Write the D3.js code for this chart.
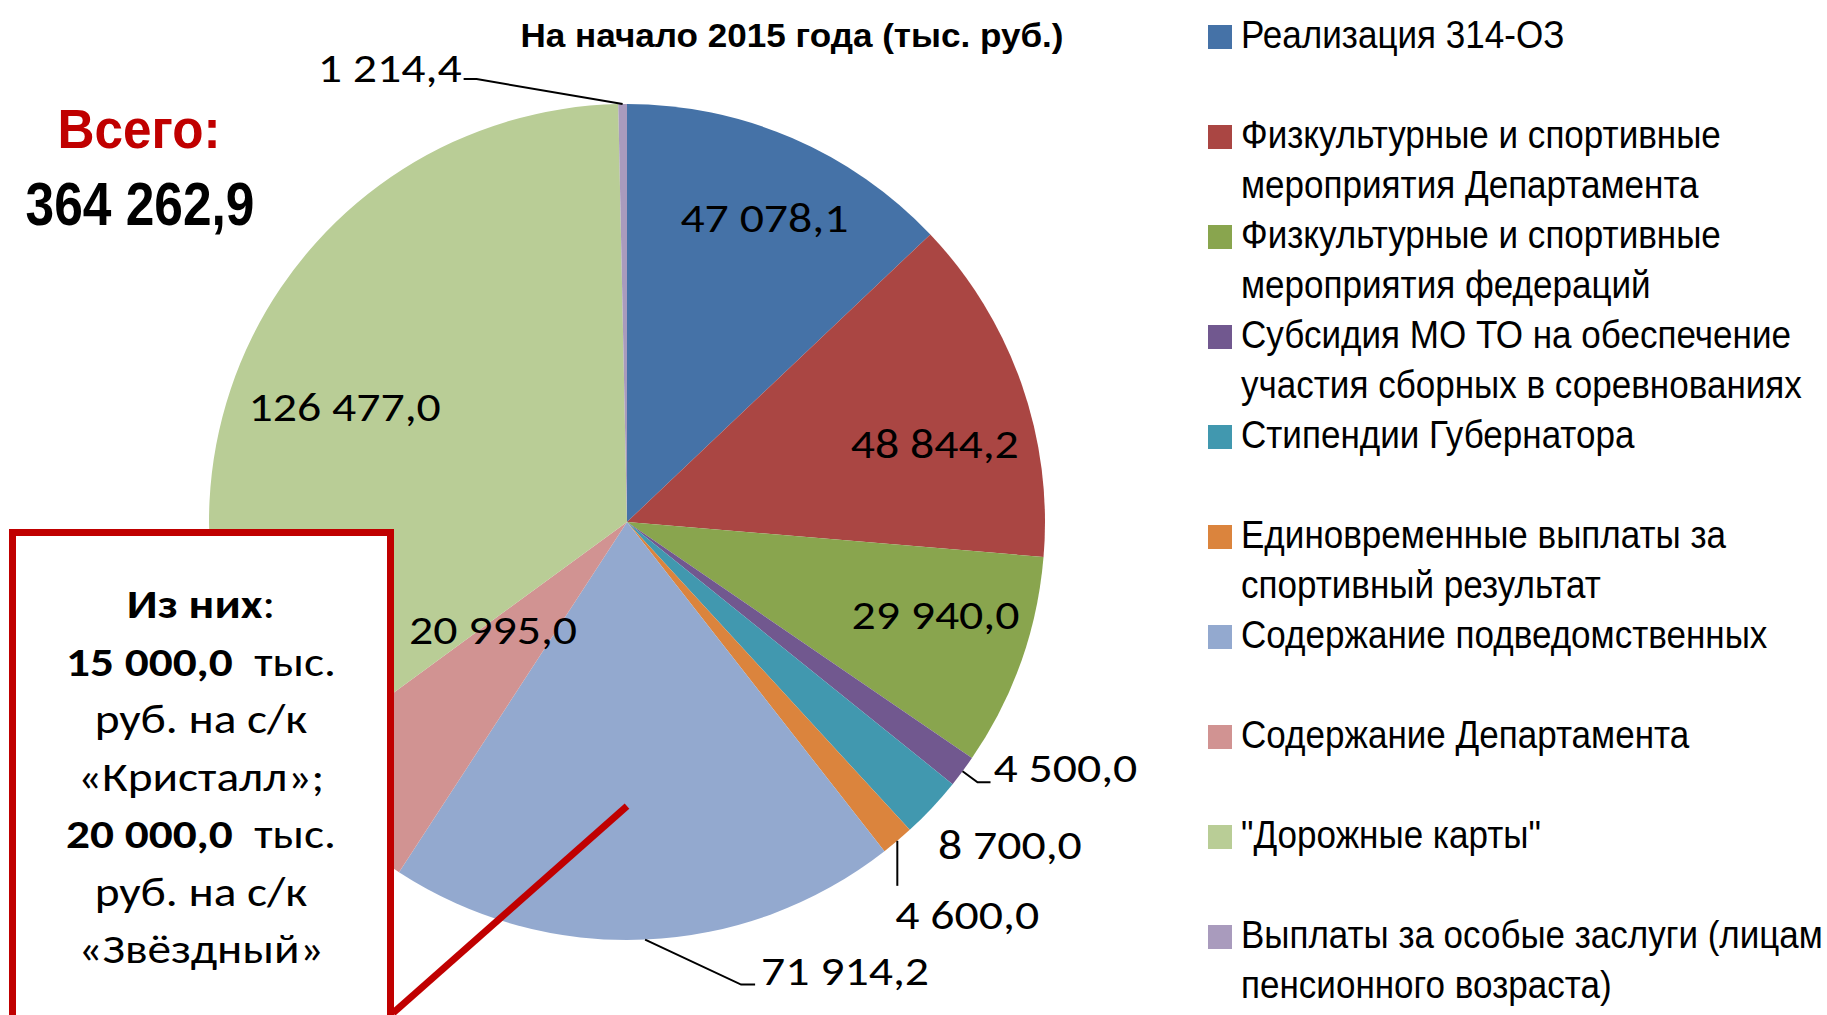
<!DOCTYPE html>
<html>
<head>
<meta charset="utf-8">
<script src="https://cdn.jsdelivr.net/npm/d3@7"></script>
<style>
html, body { margin: 0; padding: 0; background: #fff; overflow: hidden; }
svg { display: block; }
text { white-space: pre; }
</style>
</head>
<body>
<svg width="1827" height="1015"></svg>
<script>
// data, in slice order (clockwise from 12 o'clock)
var categories = [
  "Реализация 314-ОЗ",
  "Физкультурные и спортивные\nмероприятия Департамента",
  "Физкультурные и спортивные\nмероприятия федераций",
  "Субсидия МО ТО на обеспечение\nучастия сборных в соревнованиях",
  "Стипендии Губернатора",
  "Единовременные выплаты за\nспортивный результат",
  "Содержание подведомственных",
  "Содержание Департамента",
  "\"Дорожные карты\"",
  "Выплаты за особые заслуги (лицам\nпенсионного возраста)"
];
var values = [47078.1, 48844.2, 29940.0, 4500.0, 8700.0, 4600.0, 71914.2, 20995.0, 126477.0, 1214.4];
var colors = ["#4572A7", "#AA4643", "#89A54E", "#71588F", "#4198AF", "#DB843D", "#93A9CF", "#D19392", "#B9CD96", "#A99BBD"];

var title = "На начало 2015 года (тыс. руб.)";
var totalCaption = "Всего:";
var noteLines = [
  [["Из них", true], [":", false]],
  [["15 000,0", true], ["  тыс.", false]],
  [["руб. на с/к", false]],
  [["«Кристалл»;", false]],
  [["20 000,0", true], ["  тыс.", false]],
  [["руб. на с/к", false]],
  [["«Звёздный»", false]]
];

var svg = d3.select("svg");
var narrow = "'Liberation Sans Narrow', 'Arial Narrow', 'Liberation Sans', Arial, sans-serif";
var calibri = "Carlito, Calibri, Lato, 'Open Sans', sans-serif";

var cx = 627, cy = 522, R = 418;

var fmt = d3.formatLocale({decimal: ",", thousands: " ", grouping: [3], currency: ["", ""]}).format(",.1f");

// stretch/shrink text horizontally by factor k
function squeeze(sel, k) {
  sel.each(function() {
    var w = this.getComputedTextLength();
    d3.select(this).attr("textLength", w * k).attr("lengthAdjust", "spacingAndGlyphs");
  });
}
function fitTo(sel, width) {
  squeeze(sel, width / sel.node().getComputedTextLength());
}
function factor(str, font, size, weight, width) {
  var t = svg.append("text").attr("font-family", font).attr("font-size", size)
    .attr("font-weight", weight).text(str);
  var k = width / t.node().getComputedTextLength();
  t.remove();
  return k;
}

// pie
var pie = d3.pie().sort(null).value(function(d) { return d; });
var arcs = pie(values);
var arc = d3.arc().innerRadius(0).outerRadius(R);

var g = svg.append("g").attr("transform", "translate(" + cx + "," + cy + ")");
g.selectAll("path.slice")
  .data(arcs).enter()
  .append("path")
  .attr("class", "slice")
  .attr("d", arc)
  .attr("fill", function(d, i) { return colors[i]; });

function polar(a, r) { return [r * Math.sin(a), -r * Math.cos(a)]; }
function mid(d) { return (d.startAngle + d.endAngle) / 2; }

// label placement (Excel "best fit" look)
var labelLayout = [
  {inside: true, r: 0.80, turn: 1},
  {inside: true, r: 0.76, turn: 5},
  {inside: true, r: 0.77, turn: -3},
  {leader: [[15, 11], [28, 11]], text: [31, 11], anchor: "start"},
  {text: [6, 51], anchor: "start"},
  {leader: [[0, 45]], text: [-2, 88], anchor: "start"},
  {leader: [[96, 45], [110, 45]], text: [116, 45], anchor: "start"},
  {inside: true, r: 0.41, turn: 8},
  {inside: true, r: 0.73, turn: -4},
  {leader: [[-146, -25], [-159, -25]], text: [-161, -22], anchor: "end"}
];

var kLab = factor("47 078,1", calibri, 42, "normal", 168);
var labels = g.append("g").attr("font-family", calibri).attr("font-size", 42).attr("fill", "#000");

arcs.forEach(function(d, i) {
  var L = labelLayout[i];
  var p;
  if (L.inside) {
    p = polar(mid(d) + L.turn * Math.PI / 180, L.r * R);
    labels.append("text").attr("x", p[0]).attr("y", p[1]).attr("dy", "0.35em")
      .attr("text-anchor", "middle").text(fmt(d.data));
  } else {
    var e = polar(mid(d), R);
    if (L.leader) {
      var pts = [e].concat(L.leader.map(function(o) { return [e[0] + o[0], e[1] + o[1]]; }));
      labels.append("path").attr("d", d3.line()(pts))
        .attr("fill", "none").attr("stroke", "#000").attr("stroke-width", 2);
    }
    labels.append("text").attr("x", e[0] + L.text[0]).attr("y", e[1] + L.text[1])
      .attr("text-anchor", L.anchor).text(fmt(d.data));
  }
});
squeeze(labels.selectAll("text"), kLab);

// title
var t = svg.append("text").attr("x", 792).attr("y", 47).attr("text-anchor", "middle")
  .attr("font-family", narrow).attr("font-weight", "bold").attr("font-size", 33).text(title);
fitTo(t, 543);

// total
var t1 = svg.append("text").attr("x", 139).attr("y", 148).attr("text-anchor", "middle")
  .attr("font-family", narrow).attr("font-weight", "bold").attr("font-size", 56)
  .attr("fill", "#C00000").text(totalCaption);
fitTo(t1, 163);
var t2 = svg.append("text").attr("x", 140).attr("y", 225).attr("text-anchor", "middle")
  .attr("font-family", narrow).attr("font-weight", "bold").attr("font-size", 62)
  .text(fmt(d3.sum(values)));
fitTo(t2, 229);

// legend
var legX = 1208, textX = 1241, rightEdge = 1823;
var kLeg = factor("Физкультурные и спортивные", narrow, 38, "normal", 480);
var legend = svg.append("g").attr("font-family", narrow).attr("font-size", 38);
var item = legend.selectAll("g.item")
  .data(categories).enter()
  .append("g").attr("class", "item")
  .attr("transform", function(d, i) { return "translate(" + legX + "," + (25 + 100 * i) + ")"; });
item.append("rect").attr("width", 24).attr("height", 24)
  .attr("fill", function(d, i) { return colors[i]; });
item.each(function(d) {
  var sel = d3.select(this);
  d.split("\n").forEach(function(line, j) {
    var tx = sel.append("text").text(line);
    var w = tx.node().getComputedTextLength();
    var k = Math.min(kLeg, (rightEdge - textX) / w);
    tx.attr("transform", "translate(" + (textX - legX) + "," + (23 + 50 * j) + ") scale(" + k + ",1)");
  });
});

// annotation box
var red = "#C00000";
var lp = polar(Math.PI, 0.68 * R);
svg.append("line")
  .attr("x1", cx + lp[0]).attr("y1", cy + lp[1])
  .attr("x2", 393).attr("y2", 1013)
  .attr("stroke", red).attr("stroke-width", 7);
svg.append("rect").attr("x", 12.5).attr("y", 532.5).attr("width", 378).attr("height", 520)
  .attr("fill", "#fff").attr("stroke", red).attr("stroke-width", 7);

var note = svg.append("g").attr("font-family", calibri).attr("font-size", 40).attr("fill", "#000");
noteLines.forEach(function(parts, i) {
  var tx = note.append("text").attr("x", 201).attr("y", 618 + 57.5 * i).attr("text-anchor", "middle");
  parts.forEach(function(p) {
    tx.append("tspan").attr("font-weight", p[1] ? "bold" : "normal").text(p[0]);
  });
});
var kNote = 270 / note.selectAll("text").nodes()[1].getComputedTextLength();
squeeze(note.selectAll("text"), kNote);
</script>
</body>
</html>
